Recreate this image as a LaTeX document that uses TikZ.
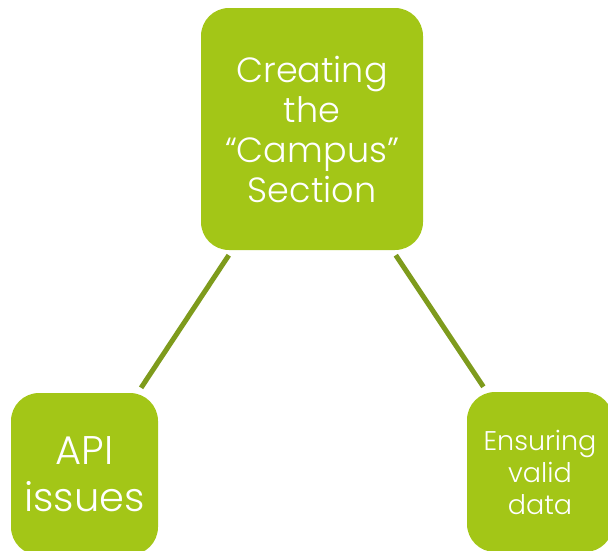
\documentclass[tikz,border=0pt]{standalone}
\usepackage{fontspec}
\setmainfont{Poppins Light}

\definecolor{leaf}{HTML}{A3C617}
\definecolor{stem}{HTML}{7E9B1C}

\tikzset{
    block/.style = {
        rectangle,
        rounded corners=28pt,
        fill=leaf,
        text=white,
        align=center,
        inner sep=0pt
    },
    link/.style = {
        stem,
        line width=5pt,
        shorten <=6pt,
        shorten >=6pt
    }
}

\begin{document}
\begin{tikzpicture}[x=1pt,y=1pt]
    \useasboundingbox (0,0) rectangle (608,-550);

    % Draw the three blocks
    \node[block, minimum width=222pt, minimum height=242pt,
          font=\fontsize{35}{40}\selectfont] (campus) at (312,-129)
        {Creating\\the\\“Campus”\\Section};
    \node[block, minimum width=147pt, minimum height=162pt,
          font=\fontsize{40}{47}\selectfont] (api) at (84.5,-474)
        {API\\issues};
    \node[block, minimum width=146pt, minimum height=160pt,
          font=\fontsize{27}{32}\selectfont] (valid) at (540,-472)
        {Ensuring\\valid\\data};

    % Draw links
    \draw[link] (campus) -- (api);
    \draw[link] (campus) -- (valid);
\end{tikzpicture}
\end{document}
